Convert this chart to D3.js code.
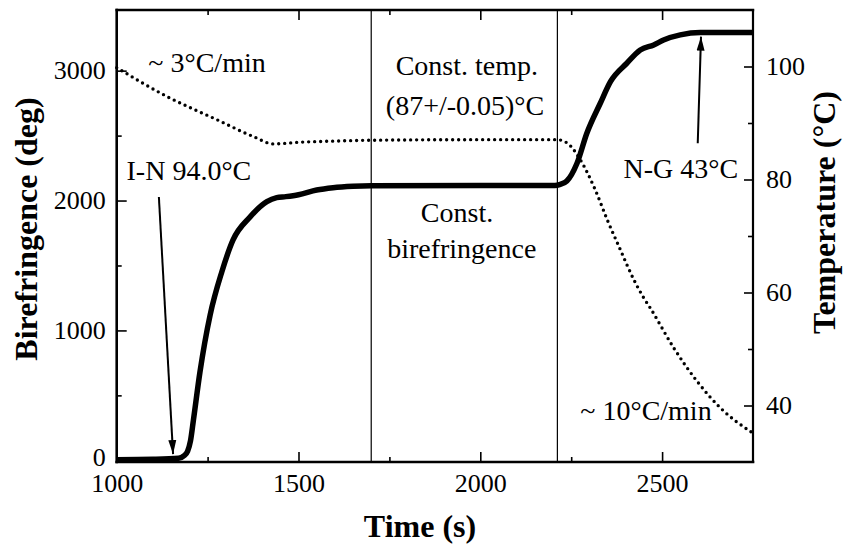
<!DOCTYPE html>
<html>
<head>
<meta charset="utf-8">
<script src="https://cdn.jsdelivr.net/npm/d3@7"></script>
<style>
  body { margin: 0; background: #fff; }
  svg { display: block; }
</style>
</head>
<body>
<script>
// birefringence (thick solid line), left axis
const biTimes = [1000, 1100, 1170, 1185, 1195, 1203, 1211, 1229, 1257, 1289, 1320, 1367, 1413, 1440, 1465, 1500, 1550, 1595, 1650, 1700, 2000, 2205, 2220, 2238, 2266, 2293, 2330, 2358, 2403, 2440, 2477, 2504, 2550, 2605, 2750];
const biValues = [5, 8, 15, 35, 70, 150, 310, 680, 1119, 1450, 1697, 1874, 1991, 2022, 2030, 2045, 2081, 2099, 2110, 2114, 2116, 2116, 2125, 2150, 2287, 2518, 2749, 2915, 3057, 3159, 3198, 3236, 3275, 3293, 3293];

// temperature (dotted line), right axis
const tTimes = [1000, 1138, 1275, 1376, 1431, 1504, 1600, 1700, 2000, 2211, 2238, 2275, 2316, 2349, 2385, 2422, 2449, 2468, 2532, 2596, 2660, 2750];
const tValues = [99.8, 94.7, 90.6, 87.6, 86.3, 86.6, 86.8, 86.95, 87.05, 87.05, 86.5, 83.5, 78.2, 72.9, 67.6, 62.3, 59.1, 57.2, 50.2, 44.3, 39.6, 35.1];

const xTicks = [1000, 1500, 2000, 2500];
const xMinor = [1250, 1750, 2250];
const leftTicks = [0, 1000, 2000, 3000];
const leftMinor = [500, 1500, 2500];
const rightTicks = [40, 60, 80, 100];
const rightMinor = [50, 70, 90];
const stageLines = [1700, 2212];

const W = 843, H = 544;
const plotL = 116.7, plotR = 753, plotT = 10, plotB = 462;
const font = "'Liberation Serif', 'Times New Roman', serif";

const x = d3.scaleLinear().domain([1000, 2750]).range([plotL, plotR]);
const yL = d3.scaleLinear().domain([-13, 3467]).range([plotB, plotT]);
const yR = d3.scaleLinear().domain([30, 110]).range([plotB, plotT]);

const svg = d3.select('body').append('svg')
    .attr('width', W)
    .attr('height', H);

svg.append('defs').append('marker')
    .attr('id', 'head')
    .attr('viewBox', '0 -5 14 10')
    .attr('refX', 14).attr('refY', 0)
    .attr('markerWidth', 14).attr('markerHeight', 10)
    .attr('markerUnits', 'userSpaceOnUse')
    .attr('orient', 'auto')
    .append('path')
    .attr('d', 'M0,-4L14,0L0,4Z')
    .attr('fill', '#000');

function styleAxis(g) {
    g.select('.domain').remove();
    g.selectAll('line').attr('stroke', '#000').attr('stroke-width', 1.6);
    g.selectAll('text')
        .attr('font-family', font)
        .attr('font-size', 26)
        .attr('fill', '#000');
}

// major + minor ticks, all pointing inwards
svg.append('g').attr('transform', `translate(0,${plotB})`)
    .call(d3.axisBottom(x).tickValues(xTicks).tickSize(-10).tickPadding(12).tickFormat(d3.format('d')))
    .call(styleAxis);
svg.append('g').attr('transform', `translate(0,${plotB})`)
    .call(d3.axisBottom(x).tickValues(xMinor).tickSize(-5).tickFormat(''))
    .call(styleAxis);
svg.append('g').attr('transform', `translate(0,${plotT})`)
    .call(d3.axisTop(x).tickValues(xTicks).tickSize(-10).tickFormat(''))
    .call(styleAxis);
svg.append('g').attr('transform', `translate(0,${plotT})`)
    .call(d3.axisTop(x).tickValues(xMinor).tickSize(-5).tickFormat(''))
    .call(styleAxis);

const leftAxis = svg.append('g').attr('transform', `translate(${plotL},0)`)
    .call(d3.axisLeft(yL).tickValues(leftTicks).tickSize(-10).tickPadding(11).tickFormat(d3.format('d')))
    .call(styleAxis);
// the zero label sits right on the corner, lift it a touch
leftAxis.selectAll('.tick text').filter(d => d === 0).attr('dy', '0.2em');
svg.append('g').attr('transform', `translate(${plotL},0)`)
    .call(d3.axisLeft(yL).tickValues(leftMinor).tickSize(-5).tickFormat(''))
    .call(styleAxis);

svg.append('g').attr('transform', `translate(${plotR},0)`)
    .call(d3.axisRight(yR).tickValues(rightTicks).tickSize(-9).tickPadding(13).tickFormat(d3.format('d')))
    .call(styleAxis);
svg.append('g').attr('transform', `translate(${plotR},0)`)
    .call(d3.axisRight(yR).tickValues(rightMinor).tickSize(-5).tickFormat(''))
    .call(styleAxis);

// stage boundaries
svg.selectAll('.stage')
    .data(stageLines)
    .enter()
    .append('line')
    .attr('x1', d => x(d)).attr('x2', d => x(d))
    .attr('y1', plotT).attr('y2', plotB)
    .attr('stroke', '#000')
    .attr('stroke-width', 1.2);

// curves
const tempLine = d3.line()
    .x((d, i) => x(tTimes[i]))
    .y(d => yR(d))
    .curve(d3.curveMonotoneX);
svg.append('path')
    .attr('d', tempLine(tValues))
    .attr('fill', 'none')
    .attr('stroke', '#000')
    .attr('stroke-width', 3.4)
    .attr('stroke-linecap', 'round')
    .attr('stroke-dasharray', '0 6');

const biLine = d3.line()
    .x((d, i) => x(biTimes[i]))
    .y(d => yL(d))
    .curve(d3.curveMonotoneX);
svg.append('path')
    .attr('d', biLine(biValues))
    .attr('fill', 'none')
    .attr('stroke', '#000')
    .attr('stroke-width', 5.5)
    .attr('stroke-linejoin', 'round');

// frame
const frame = [
    [plotL, plotB, plotR, plotB, 2.6],
    [plotL, plotT, plotL, plotB, 2.6],
    [plotL, plotT, plotR, plotT, 2.4],
    [plotR, plotT, plotR, plotB, 2.2]
];
svg.selectAll('.frame')
    .data(frame)
    .enter()
    .append('line')
    .attr('x1', d => d[0]).attr('y1', d => d[1])
    .attr('x2', d => d[2]).attr('y2', d => d[3])
    .attr('stroke', '#000')
    .attr('stroke-width', d => d[4])
    .attr('stroke-linecap', 'square');

// arrows (time, birefringence)
const arrows = [
    { from: [1116, 2027], to: [1155, 48] },
    { from: [2598, 2441], to: [2607, 3262] }
];
svg.selectAll('.arrow')
    .data(arrows)
    .enter()
    .append('line')
    .attr('x1', d => x(d.from[0])).attr('y1', d => yL(d.from[1]))
    .attr('x2', d => x(d.to[0])).attr('y2', d => yL(d.to[1]))
    .attr('stroke', '#000')
    .attr('stroke-width', 2)
    .attr('marker-end', 'url(#head)');

// annotations (time, birefringence)
const notes = [
    { text: '~ 3°C/min', t: 1087, b: 2993, anchor: 'start' },
    { text: 'Const. temp.', t: 1963, b: 2967, anchor: 'middle' },
    { text: '(87+/-0.05)°C', t: 1958, b: 2659, anchor: 'middle' },
    { text: 'I-N 94.0°C', t: 1027, b: 2158, anchor: 'start' },
    { text: 'Const.', t: 1936, b: 1837, anchor: 'middle' },
    { text: 'birefringence', t: 1949, b: 1555, anchor: 'middle' },
    { text: 'N-G 43°C', t: 2394, b: 2171, anchor: 'start' },
    { text: '~ 10°C/min', t: 2275, b: 308, anchor: 'start' }
];
svg.selectAll('.note')
    .data(notes)
    .enter()
    .append('text')
    .attr('x', d => x(d.t))
    .attr('y', d => yL(d.b))
    .attr('text-anchor', d => d.anchor)
    .attr('font-family', font)
    .attr('font-size', 28)
    .attr('fill', '#000')
    .text(d => d.text);

// axis titles
svg.append('text')
    .attr('x', 420).attr('y', 537)
    .attr('text-anchor', 'middle')
    .attr('font-family', font)
    .attr('font-weight', 'bold')
    .attr('font-size', 32)
    .text('Time (s)');

svg.append('text')
    .attr('transform', 'translate(36.5,229) rotate(-90)')
    .attr('text-anchor', 'middle')
    .attr('font-family', font)
    .attr('font-weight', 'bold')
    .attr('font-size', 32)
    .text('Birefringence (deg)');

svg.append('text')
    .attr('transform', 'translate(835,212.5) rotate(-90)')
    .attr('text-anchor', 'middle')
    .attr('font-family', font)
    .attr('font-weight', 'bold')
    .attr('font-size', 32)
    .text('Temperature (°C)');
</script>
</body>
</html>
